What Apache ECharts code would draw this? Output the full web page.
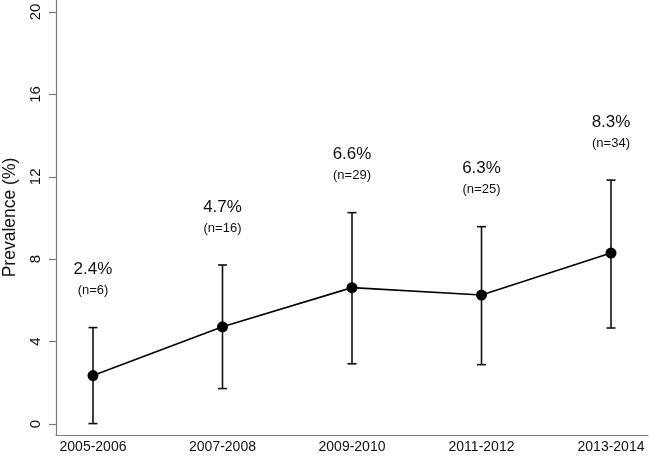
<!DOCTYPE html>
<html>
<head>
<meta charset="utf-8">
<script src="https://cdn.jsdelivr.net/npm/echarts@6/dist/echarts.min.js"></script>
<style>html,body{margin:0;padding:0;background:#fff;}#c{width:649px;height:457px;}</style>
</head>
<body>
<div id="c"></div>
<script>
var categories = ['2005-2006', '2007-2008', '2009-2010', '2011-2012', '2013-2014'];
var prevalence = [2.35, 4.72, 6.62, 6.26, 8.3];
var lowerCI = [0.02, 1.72, 2.92, 2.88, 4.66];
var upperCI = [4.68, 7.72, 10.26, 9.58, 11.84];
var pctLabels = ['2.4%', '4.7%', '6.6%', '6.3%', '8.3%'];
var nLabels = ['(n=6)', '(n=16)', '(n=29)', '(n=25)', '(n=34)'];
var yTicks = [0, 4, 8, 12, 16, 20];
var xTicks = [0, 1, 2, 3, 4];

var chart = echarts.init(document.getElementById('c'));
var FONT = 'Liberation Sans, Arial, sans-serif';
var AXC = '#7a7a7a';

var pointData = prevalence.map(function (v, i) { return [i, v]; });
var errData = prevalence.map(function (v, i) { return [i, lowerCI[i], upperCI[i], pctLabels[i], nLabels[i]]; });

chart.setOption({
  animation: false,
  backgroundColor: '#fff',
  grid: { left: 56, right: 1, top: 0, bottom: 22, containLabel: false, outerBoundsMode: 'none' },
  xAxis: {
    type: 'value',
    min: -0.2857, max: 4.2857,
    splitLine: { show: false },
    axisLine: { show: true, onZero: false, lineStyle: { color: AXC, width: 1.2 } },
    axisTick: { show: false },
    axisLabel: {
      customValues: xTicks,
      formatter: function (v) { return categories[Math.round(v)]; },
      color: '#111', fontFamily: FONT, fontSize: 14, margin: 5
    }
  },
  yAxis: {
    type: 'value',
    min: -0.534, max: 20.583,
    name: 'Prevalence (%)',
    nameLocation: 'middle',
    nameGap: 37,
    nameRotate: 90,
    nameTextStyle: { color: '#111', fontFamily: FONT, fontSize: 17.5 },
    splitLine: { show: false },
    axisLine: { show: true, onZero: false, lineStyle: { color: AXC, width: 1.2 } },
    axisTick: { show: true, customValues: yTicks, length: 7, lineStyle: { color: AXC, width: 1.2 } },
    axisLabel: {
      customValues: yTicks,
      rotate: 90,
      color: '#111', fontFamily: FONT, fontSize: 15, margin: 13
    }
  },
  series: [
    {
      type: 'custom',
      data: errData,
      z: 2,
      renderItem: function (params, api) {
        var x = api.value(0);
        var lo = api.coord([x, api.value(1)]);
        var hi = api.coord([x, api.value(2)]);
        var cap = 4.5;
        var st = { stroke: '#111', lineWidth: 1.6 };
        var idx = params.dataIndex;
        return {
          type: 'group',
          children: [
            { type: 'line', shape: { x1: lo[0], y1: lo[1], x2: hi[0], y2: hi[1] }, style: st },
            { type: 'line', shape: { x1: lo[0] - cap, y1: lo[1], x2: lo[0] + cap, y2: lo[1] }, style: st },
            { type: 'line', shape: { x1: hi[0] - cap, y1: hi[1], x2: hi[0] + cap, y2: hi[1] }, style: st },
            { type: 'text', x: hi[0], y: hi[1] - 58, style: { text: pctLabels[idx], fill: '#111', font: '17px ' + FONT, align: 'center', verticalAlign: 'middle' } },
            { type: 'text', x: hi[0], y: hi[1] - 37, style: { text: nLabels[idx], fill: '#111', font: '13px ' + FONT, align: 'center', verticalAlign: 'middle' } }
          ]
        };
      }
    },
    {
      type: 'line',
      data: pointData,
      z: 3,
      symbol: 'circle',
      symbolSize: 11,
      itemStyle: { color: '#000' },
      lineStyle: { color: '#000', width: 1.6 }
    }
  ]
});
</script>
</body>
</html>
